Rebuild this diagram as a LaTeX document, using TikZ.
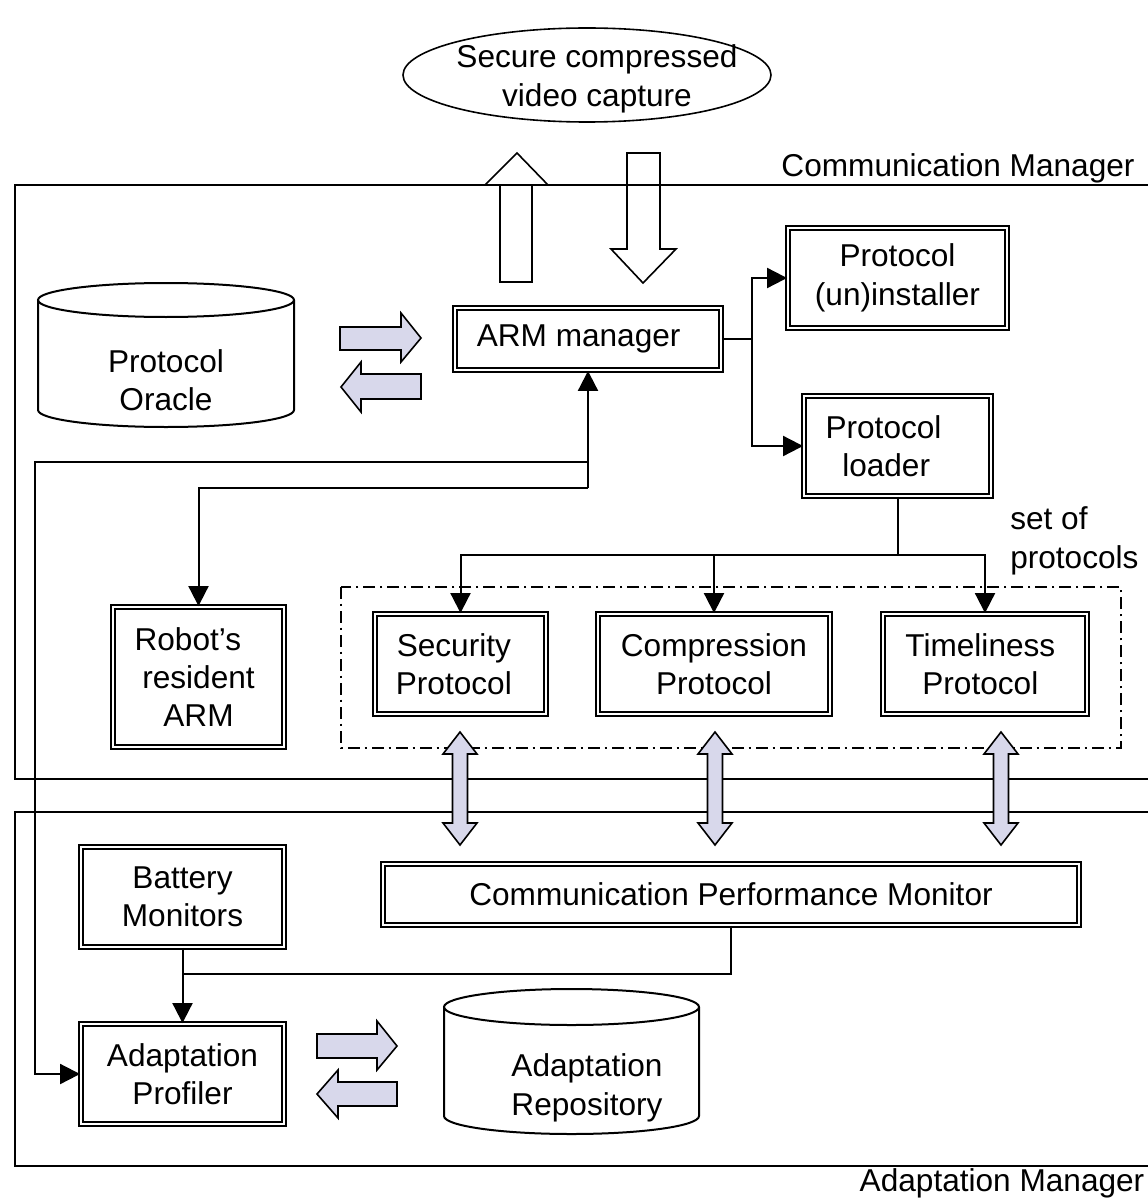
\documentclass[tikz,border=0pt]{standalone}
\usepackage{fontspec}
\setmainfont{Liberation Sans}
\usetikzlibrary{arrows.meta,shapes.geometric}
\definecolor{lav}{RGB}{216,216,235}
\begin{document}
\begin{tikzpicture}[x=0.75pt,y=-0.75pt,
  lbl/.style={font=\fontsize{23.7}{28.8}\selectfont, align=center, inner sep=0pt},
  dbox/.style={lbl, draw, double, double distance=1.1pt, line width=1.4pt},
  conn/.style={line width=1.5pt},
  arr/.style={conn, -{Triangle[length=15pt,width=15pt]}},
  fat/.style={draw, line width=1.2pt, fill=lav, line join=miter},
  hollow/.style={draw, line width=1.2pt, line join=miter},
  mgr/.style={line width=1.5pt},
  cyl/.style={line width=1.5pt},
  setbox/.style={line width=1.5pt, dash pattern=on 9pt off 3.5pt on 2pt off 3.5pt},
]
\useasboundingbox (0,0) rectangle (1147,1198);

% managers
\draw[mgr] (1160,185) -- (15,185) -- (15,779) -- (1160,779);
\draw[mgr] (1160,812) -- (15,812) -- (15,1166) -- (1160,1166);
\node[lbl] (cmlabel) at (958,168) {Communication Manager};
\node[lbl] (amlabel) at (1002,1183) {Adaptation Manager};

% external
\node[lbl] (video) at (597,79) {Secure compressed\\video capture};
\draw[line width=1.2pt] (587,75) ellipse [x radius=184, y radius=47];

% hollow arrows
\draw[hollow] (500,282) -- (500,185) -- (485,185) -- (517,153) -- (548,185) -- (532,185) -- (532,282) -- cycle;
\draw[hollow] (627,153) -- (660,153) -- (660,249) -- (676,249) -- (643,283) -- (611,249) -- (627,249) -- cycle;

% boxes
\node[dbox, minimum width=199.5pt, minimum height=46.5pt] (arm) at (588,339) {ARM manager\hspace*{14pt}};
\node[dbox, minimum width=164.25pt, minimum height=75pt] (inst) at (897.5,278) {Protocol\\(un)installer};
\node[dbox, minimum width=140.25pt, minimum height=75pt] (load) at (897.5,446) {Protocol\hspace*{21pt}\\loader\hspace*{17pt}};
\node[dbox, minimum width=128.25pt, minimum height=105pt] (robot) at (198.5,677) {Robot's\hspace*{16pt}\\resident\hspace*{25pt}\\ARM};
\node[dbox, minimum width=128.25pt, minimum height=75pt] (sec) at (460.5,664) {Security\hspace*{10pt}\\Protocol\hspace*{10pt}};
\node[dbox, minimum width=174pt, minimum height=75pt] (comp) at (714,664) {Compression\\Protocol};
\node[dbox, minimum width=153pt, minimum height=75pt] (tim) at (985,664) {Timeliness\hspace*{7pt}\\Protocol\hspace*{7pt}};
\node[dbox, minimum width=152.25pt, minimum height=75pt] (bat) at (182.5,897) {Battery\\Monitors};
\node[dbox, minimum width=522pt, minimum height=45.75pt] (cpm) at (731,894.5) {Communication Performance Monitor};
\node[dbox, minimum width=152.25pt, minimum height=75pt] (prof) at (182.5,1074) {Adaptation\\Profiler};

% set of protocols
\draw[setbox] (341,587) rectangle (1121,748);
\node[lbl, align=left, anchor=west] (setlbl) at (1010,541) {set of\\protocols};

% cylinders
\draw[cyl] (38,300) -- (38,410) arc[start angle=180, end angle=0, x radius=128, y radius=17] -- (294,300);
\draw[cyl] (166,300) ellipse [x radius=128, y radius=17];
\node[lbl] (oracle) at (166,380) {Protocol\\Oracle};
\draw[cyl] (444,1007) -- (444,1116) arc[start angle=180, end angle=0, x radius=127.5, y radius=18] -- (699,1007);
\draw[cyl] (571.5,1007) ellipse [x radius=127.5, y radius=18];
\node[lbl] (repo) at (587,1088) {Adaptation\\Repository};

% fat arrows
\draw[fat] (340,327) -- (401,327) -- (401,313) -- (421,338) -- (401,362) -- (401,350) -- (340,350) -- cycle;
\draw[fat] (341,387) -- (361,362) -- (361,374) -- (421,374) -- (421,399) -- (361,399) -- (361,412) -- cycle;
\draw[fat] (317,1034) -- (377,1034) -- (377,1021) -- (397,1046) -- (377,1070) -- (377,1058) -- (317,1058) -- cycle;
\draw[fat] (317,1094) -- (338,1070) -- (338,1082) -- (397,1082) -- (397,1106) -- (338,1106) -- (338,1118) -- cycle;

% connectors
\coordinate (j1) at (752,339);
\draw[conn] (arm.east) -- (j1);
\draw[arr] (j1) |- (inst.west);
\draw[arr] (j1) |- (load.west);

\coordinate (j2) at (897.5,555);
\draw[conn] (load.south) -- (j2);
\draw[arr] (j2) -| (sec.north);
\draw[arr] (j2) -| (comp.north);
\draw[arr] (j2) -| (tim.north);

\coordinate (j3) at (588,488);
\coordinate (j4) at (588,462);
\coordinate (c1) at (35,462);
\draw[arr] (j3) -- (arm.south);
\draw[arr] (j3) -| (robot.north);
\draw[arr] (j4) -- (c1) |- (prof.west);

\coordinate (j5) at (182.5,974);
\draw[arr] (bat.south) -- (prof.north);
\draw[conn] (cpm.south) |- (j5);

% double arrows
\foreach \cx in {460,715,1001}{
  \draw[fat] (\cx,732) -- (\cx+17,754) -- (\cx+7.5,754) -- (\cx+7.5,823) -- (\cx+17,823) -- (\cx,845) -- (\cx-17,823) -- (\cx-7.5,823) -- (\cx-7.5,754) -- (\cx-17,754) -- cycle;
}
\end{tikzpicture}
\end{document}
